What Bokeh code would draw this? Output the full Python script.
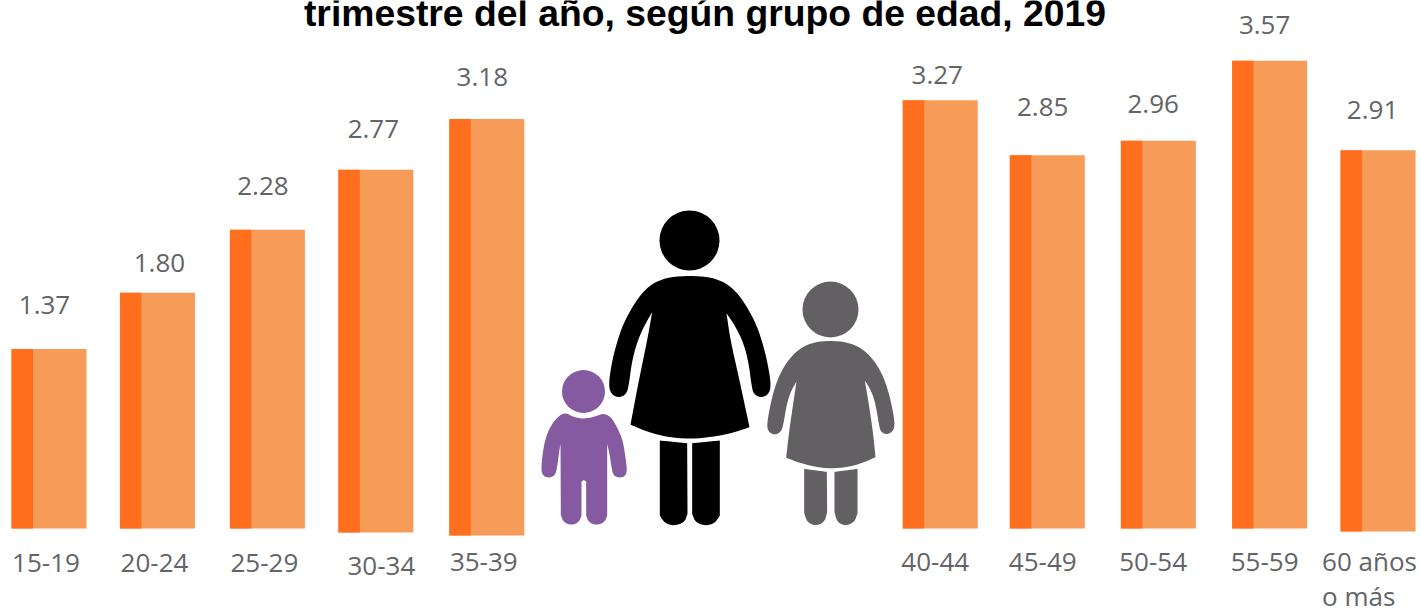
from bokeh.plotting import figure
from bokeh.models import Range1d, ColumnDataSource
from bokeh.transform import dodge
from bokeh.core.properties import value
from bokeh.embed import file_html
from bokeh.resources import INLINE

# ---------- data ----------
TITLE = "trimestre del año, según grupo de edad, 2019"
groups_young = ["15-19", "20-24", "25-29", "30-34", "35-39"]
groups_old = ["40-44", "45-49", "50-54", "55-59", "60 años\no más"]
values_young = [1.37, 1.80, 2.28, 2.77, 3.18]
values_old = [3.27, 2.85, 2.96, 3.57, 2.91]

# ---------- layout (pixels) ----------
W, H = 1421, 609
PX_PER_UNIT = 131.0
PX_PER_SLOT = 109.45
FIRST_BAR_X = 48.5
GROUP_GAP = 3.143
BASE_Y = 528
bar_nudge = [0, -1, -0.5, -1.5, 0, 0, -2.4, -0.8, 1, 0]
bar_drop = [0, 0, 0, 4, 7, 0, 0, 0, 0, 3]
value_lift = [44.5, 29.5, 43.5, 40.5, 42, 25.5, 48.5, 36.5, 35.5, 40.5]
value_dx = [-4.5, 1, -5, -4, -4.5, -3, -7, -6, -4, -5.5]
cat_baseline = [562, 562, 562, 565, 561, 561, 561, 561, 561, 578]
cat_dx = [-3, -4, -3.5, 4, -3, -5, -7, -6, -4, -56]
cat_align = ["center"] * 9 + ["left"]

DARK, LIGHT = "#FF6F1E", "#F79B58"
TEXT = "#636466"
FONT = value("Open Sans")

cats = groups_young + groups_old
vals = values_young + values_old
grid = list(range(len(groups_young))) + [len(groups_young) + GROUP_GAP + i for i in range(len(groups_old))]
slots = [g + n / PX_PER_SLOT for g, n in zip(grid, bar_nudge)]
floors = [-d / PX_PER_UNIT for d in bar_drop]

src = ColumnDataSource(dict(
    x=slots,
    top=[v + f for v, f in zip(vals, floors)],
    bottom=floors,
    value_text=[f"{v:.2f}" for v in vals],
    value_dx=[d - n for d, n in zip(value_dx, bar_nudge)],
    value_dy=[-l for l in value_lift],
    cat=cats,
    cat_y=[(BASE_Y - b) / PX_PER_UNIT for b in cat_baseline],
    cat_dx=[d - n for d, n in zip(cat_dx, bar_nudge)],
    cat_align=cat_align,
))

x_range = Range1d(-FIRST_BAR_X / PX_PER_SLOT, (W - FIRST_BAR_X) / PX_PER_SLOT)
y_range = Range1d(-(H - BASE_Y) / PX_PER_UNIT, BASE_Y / PX_PER_UNIT)

p = figure(x_range=x_range, y_range=y_range, width=W, height=H,
           output_backend="svg", toolbar_location=None,
           min_border=0, outline_line_color=None)
p.axis.visible = False
p.grid.visible = False
p.extra_x_ranges["px"] = Range1d(0, W)
p.extra_y_ranges["px"] = Range1d(H, 0)

BAR_W, DARK_W = 75 / PX_PER_SLOT, 21.5 / PX_PER_SLOT
p.vbar(x="x", top="top", bottom="bottom", width=BAR_W, fill_color=LIGHT, line_color=None, source=src)
p.vbar(x=dodge("x", -BAR_W / 2 + DARK_W / 2), top="top", bottom="bottom",
       width=DARK_W, fill_color=DARK, line_color=None, source=src)

p.text(x="x", y="top", text="value_text", x_offset="value_dx",
       y_offset="value_dy", text_align="center", text_baseline="alphabetic",
       text_font=FONT, text_font_size="26px", text_color=TEXT, source=src)
p.text(x="x", y="cat_y", text="cat", x_offset="cat_dx",
       text_align="cat_align", text_baseline="alphabetic", text_line_height=0.97,
       text_font=FONT, text_font_size="26px", text_color=TEXT, source=src)

p.text(x=[704.5], y=[12], text=[TITLE], x_range_name="px", y_range_name="px",
       text_align="center", text_baseline="alphabetic",
       text_font=value("Liberation Sans"), text_font_style="bold",
       text_font_size="37.3px", text_color="#000000")


# ---------- pictogram outlines ----------
def smooth(pts, n=2):
    for _ in range(n):
        out = []
        for i, a in enumerate(pts):
            b = pts[(i + 1) % len(pts)]
            out.append((0.75 * a[0] + 0.25 * b[0], 0.75 * a[1] + 0.25 * b[1]))
            out.append((0.25 * a[0] + 0.75 * b[0], 0.25 * a[1] + 0.75 * b[1]))
        pts = out
    return pts


def c(x, y):
    """A corner: the repeated point survives the smoothing."""
    return [(x, y), (x, y)]


def flat(*parts):
    out = []
    for part in parts:
        out.extend(part if isinstance(part, list) else [part])
    return out


def shape(pts, ox, oy, color):
    s = smooth(pts)
    p.patch([ox + a / 3 for a, _ in s], [oy + b / 3 for _, b in s], color=color,
            line_width=0, x_range_name="px", y_range_name="px")


def head(cx, cy, r, color):
    p.scatter([cx], [cy], size=2 * r, marker="circle", color=color, line_width=0,
              x_range_name="px", y_range_name="px")


BLACK, PURPLE, GRAY = "#000000", "#855AA1", "#636064"
woman = flat((477, 226), (420, 229), (372, 245), (338, 273), (308, 315), (278, 370), (258, 430), (243, 490),
             (234, 555), (243, 582), (265, 592), (287, 582), (295, 555), (303, 490), (318, 430), (340, 378),
             c(365, 335), (350, 420), (325, 540), c(300, 672), (340, 690), (400, 708), (477, 716),
             (555, 708), (610, 696), c(657, 680), (625, 530), (600, 420), c(588, 338), (615, 378), (640, 430),
             (655, 490), (663, 555), (670, 582), (692, 592), (714, 582), (722, 555), (712, 490), (697, 430),
             (677, 370), (647, 315), (617, 273), (582, 245), (535, 229))
woman_l = flat(c(388, 720), c(470, 728), c(471, 940), (462, 966), (430, 976), (403, 968), c(388, 945))
woman_r = flat(c(485, 728), c(568, 720), c(568, 945), (553, 968), (525, 976), (495, 966), c(485, 940))
child = flat((160, 655), (130, 650), (105, 636), (82, 648), (58, 680), (43, 720), (35, 770), (32, 812), (40, 828),
             (58, 832), (74, 824), (80, 800), (85, 760), c(90, 730), c(91, 945), (100, 966), (122, 974), (145, 966),
             c(153, 945), c(153, 843), (160, 838), c(167, 843), c(167, 945), (175, 966), (198, 974), (222, 966),
             c(230, 945), c(230, 730), (237, 760), (243, 800), (248, 824), (265, 832), (283, 828), (290, 812),
             (285, 770), (277, 720), (260, 680), (242, 650), (220, 638), (195, 648))
girl = flat((240, 210), (190, 215), (150, 232), (113, 268), (83, 320), (63, 385), (49, 460), (53, 483), (72, 494),
            (92, 484), (99, 460), (109, 400), (122, 360), c(138, 333), (125, 420), (115, 490), c(107, 562), (150, 578),
            (200, 590), (240, 594), (290, 590), (335, 578), c(375, 560), (368, 490), (358, 420), c(343, 330), (362, 360),
            (375, 400), (385, 460), (390, 483), (408, 493), (427, 483), (434, 460), (420, 385), (400, 320), (370, 268),
            (332, 232), (290, 215))
girl_l = flat(c(161, 595), c(229, 604), c(230, 725), (222, 755), (195, 766), (170, 755), c(161, 728))
girl_r = flat(c(252, 604), c(321, 595), c(321, 728), (312, 755), (285, 766), (260, 755), c(252, 725))

head(689, 240, 30, BLACK)
shape(woman, 530, 200, BLACK)
shape(woman_l, 530, 200, BLACK)
shape(woman_r, 530, 200, BLACK)
head(583, 391, 21.5, PURPLE)
shape(child, 530, 200, PURPLE)
head(830, 309, 28, GRAY)
shape(girl, 750, 270, GRAY)
shape(girl_l, 750, 270, GRAY)
shape(girl_r, 750, 270, GRAY)

open("out.html", "w").write(file_html(p, INLINE))
